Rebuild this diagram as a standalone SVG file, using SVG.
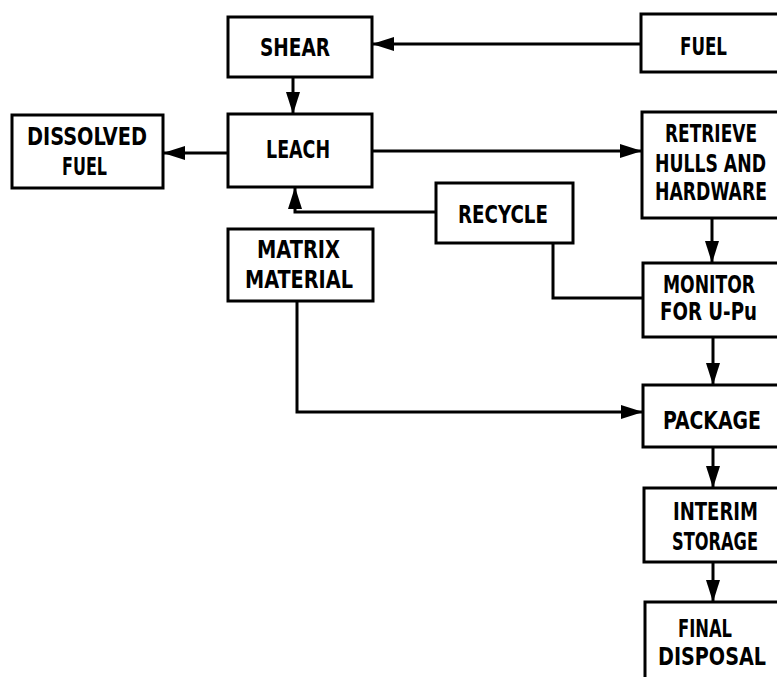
<svg xmlns="http://www.w3.org/2000/svg" width="777" height="677" viewBox="0 0 777 677">
<style>
.box{fill:#fff;stroke:#000;stroke-width:3}
.t{font-family:"DejaVu Sans Condensed","DejaVu Sans","Liberation Sans",sans-serif;font-weight:bold;font-size:24px;fill:#000}
.c{fill:none;stroke:#000;stroke-width:3}
</style>
<defs>
<marker id="ah" markerUnits="userSpaceOnUse" markerWidth="24" markerHeight="16" refX="22" refY="7" orient="auto" viewBox="0 0 24 16">
<path d="M0,0 L22,7 L0,14 z" fill="#000"/>
</marker>
</defs>
<rect width="777" height="677" fill="#fff"/>
<g id="connectors">
<line class="c" x1="641" y1="44" x2="372" y2="44" marker-end="url(#ah)"/>
<line class="c" x1="293" y1="77" x2="293" y2="114" marker-end="url(#ah)"/>
<line class="c" x1="228" y1="153" x2="163" y2="153" marker-end="url(#ah)"/>
<line class="c" x1="372" y1="151" x2="642" y2="151" marker-end="url(#ah)"/>
<polyline class="c" points="436,212 295,212 295,187" marker-end="url(#ah)"/>
<polyline class="c" points="553,243 553,298 643,298"/>
<polyline class="c" points="297,301 297,412 643,412" marker-end="url(#ah)"/>
<line class="c" x1="712" y1="218" x2="712" y2="263" marker-end="url(#ah)"/>
<line class="c" x1="713" y1="337" x2="713" y2="385" marker-end="url(#ah)"/>
<line class="c" x1="713" y1="447" x2="713" y2="488" marker-end="url(#ah)"/>
<line class="c" x1="713" y1="562" x2="713" y2="602" marker-end="url(#ah)"/>
</g>
<g id="shear">
<rect class="box" x="228" y="17" width="144" height="60"/>
<text class="t" x="260" y="56" textLength="70" lengthAdjust="spacingAndGlyphs">SHEAR</text>
</g>
<g id="fuel">
<rect class="box" x="641" y="14" width="138" height="58"/>
<text class="t" x="680" y="55" textLength="47" lengthAdjust="spacingAndGlyphs">FUEL</text>
</g>
<g id="leach">
<rect class="box" x="228" y="114" width="144" height="73"/>
<text class="t" x="266" y="158" textLength="64" lengthAdjust="spacingAndGlyphs">LEACH</text>
</g>
<g id="dissolved-fuel">
<rect class="box" x="12" y="115" width="151" height="73"/>
<text class="t" x="27" y="145" textLength="120" lengthAdjust="spacingAndGlyphs">DISSOLVED</text>
<text class="t" x="62" y="175" textLength="45" lengthAdjust="spacingAndGlyphs">FUEL</text>
</g>
<g id="retrieve">
<rect class="box" x="642" y="112" width="137" height="106"/>
<text class="t" x="665" y="142" textLength="92" lengthAdjust="spacingAndGlyphs">RETRIEVE</text>
<text class="t" x="655" y="172" textLength="111" lengthAdjust="spacingAndGlyphs">HULLS AND</text>
<text class="t" x="655" y="200" textLength="112" lengthAdjust="spacingAndGlyphs">HARDWARE</text>
</g>
<g id="recycle">
<rect class="box" x="436" y="183" width="137" height="60"/>
<text class="t" x="458" y="223" textLength="90" lengthAdjust="spacingAndGlyphs">RECYCLE</text>
</g>
<g id="matrix-material">
<rect class="box" x="228" y="229" width="145" height="72"/>
<text class="t" x="257" y="258" textLength="83" lengthAdjust="spacingAndGlyphs">MATRIX</text>
<text class="t" x="245" y="288" textLength="108" lengthAdjust="spacingAndGlyphs">MATERIAL</text>
</g>
<g id="monitor">
<rect class="box" x="643" y="263" width="136" height="74"/>
<text class="t" x="663" y="293" textLength="92" lengthAdjust="spacingAndGlyphs">MONITOR</text>
<text class="t" x="660" y="320" textLength="97" lengthAdjust="spacingAndGlyphs">FOR U-Pu</text>
</g>
<g id="package">
<rect class="box" x="643" y="385" width="136" height="62"/>
<text class="t" x="663" y="429" textLength="98" lengthAdjust="spacingAndGlyphs">PACKAGE</text>
</g>
<g id="interim-storage">
<rect class="box" x="644" y="488" width="135" height="74"/>
<text class="t" x="673" y="520" textLength="85" lengthAdjust="spacingAndGlyphs">INTERIM</text>
<text class="t" x="672" y="550" textLength="86" lengthAdjust="spacingAndGlyphs">STORAGE</text>
</g>
<g id="final-disposal">
<rect class="box" x="645" y="602" width="134" height="90"/>
<text class="t" x="678" y="637" textLength="54" lengthAdjust="spacingAndGlyphs">FINAL</text>
<text class="t" x="658" y="665" textLength="108" lengthAdjust="spacingAndGlyphs">DISPOSAL</text>
</g>
</svg>
